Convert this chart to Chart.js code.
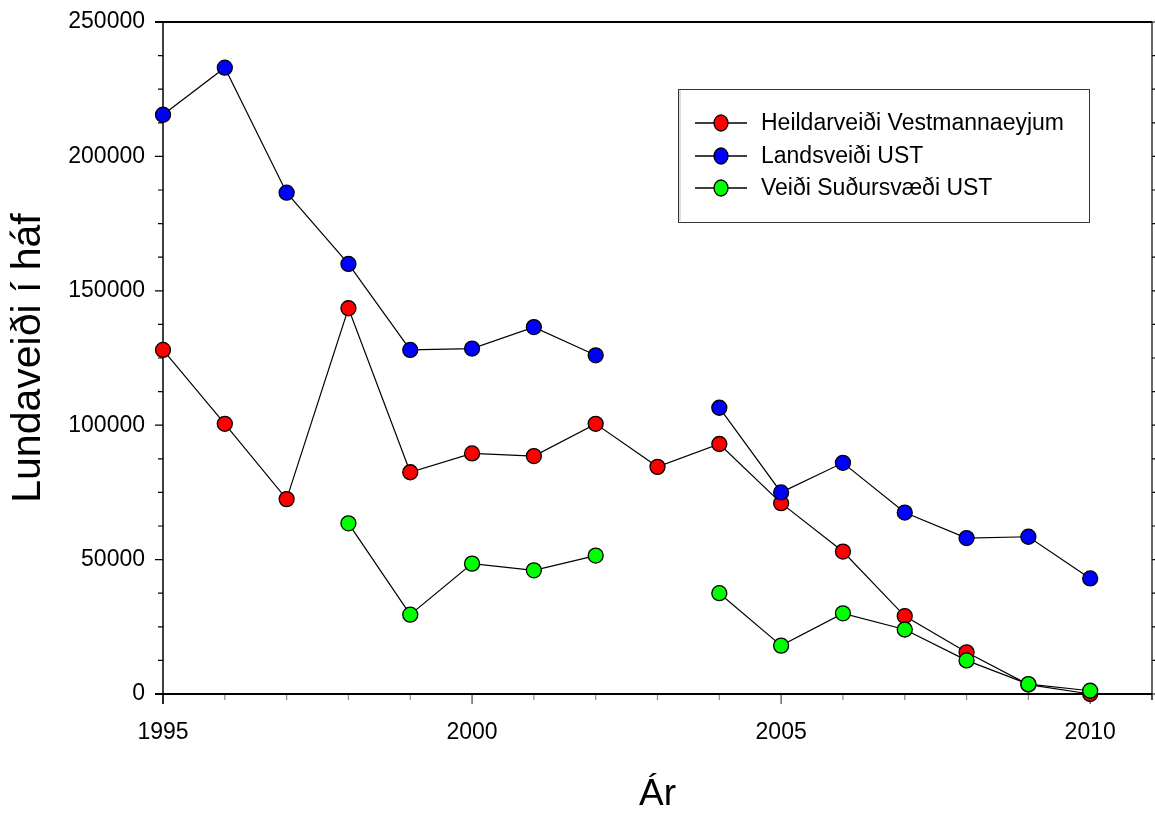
<!DOCTYPE html>
<html>
<head>
<meta charset="utf-8">
<script src="https://cdn.jsdelivr.net/npm/chart.js@4"></script>
<style>
  html, body { margin: 0; padding: 0; background: #fff; }
  canvas { display: block; }
</style>
</head>
<body>
<canvas id="lundaChart" width="1155" height="813"></canvas>
<script>
// ár
const years = [1995, 1996, 1997, 1998, 1999, 2000, 2001, 2002, 2003, 2004, 2005, 2006, 2007, 2008, 2009, 2010];

// Heildarveiði Vestmannaeyjum
const vestmannaeyjar = [128000, 100500, 72500, 143500, 82500, 89500, 88500, 100500, 84500, 93000, 71000, 53000, 29000, 15500, 3500, 0];
// Landsveiði UST
const landsveidi = [215500, 233000, 186500, 160000, 128000, 128500, 136500, 126000, null, 106500, 75000, 86000, 67500, 58000, 58500, 43000];
// Veiði Suðursvæði UST
const sudursvaedi = [null, null, null, 63500, 29500, 48500, 46000, 51500, null, 37500, 18000, 30000, 24000, 12500, 3700, 1200];

const seriesLabels = ['Heildarveiði Vestmannaeyjum', 'Landsveiði UST', 'Veiði Suðursvæði UST'];
const seriesColors = ['#ff0000', '#0000ff', '#00ff00'];

const yTicks = [0, 50000, 100000, 150000, 200000, 250000];
const xLabelYears = [1995, 2000, 2005, 2010];

const FONT = '"Liberation Sans", Arial, sans-serif';

function toPoints(values) {
  return years.map((yr, i) => ({ x: yr, y: values[i] }));
}

function makeSet(idx, values, order) {
  return {
    label: seriesLabels[idx],
    data: toPoints(values),
    order: order,
    borderColor: '#000',
    borderWidth: 1.2,
    backgroundColor: seriesColors[idx],
    pointBackgroundColor: seriesColors[idx],
    pointBorderColor: '#000',
    pointBorderWidth: 1.3,
    pointRadius: 7.5,
    pointHoverRadius: 7.5,
    spanGaps: false,
    clip: false,
    tension: 0
  };
}

// rammi og strik
const framePlugin = {
  id: 'frame',
  beforeDatasetsDraw(chart) {
    const { ctx, chartArea: a, scales: { x, y } } = chart;
    ctx.save();
    ctx.strokeStyle = '#000';

    // y strik
    for (let v = 0; v <= 250000; v += 12500) {
      const py = y.getPixelForValue(v);
      const major = v % 50000 === 0;
      ctx.lineWidth = 1.2;
      ctx.beginPath();
      ctx.moveTo(a.left - (major ? 8 : 5), py);
      ctx.lineTo(a.left, py);
      ctx.moveTo(a.right, py);
      ctx.lineTo(a.right + 6, py);
      ctx.stroke();
    }

    // x strik
    for (let yr = 1995; yr <= 2011; yr++) {
      const px = x.getPixelForValue(yr);
      const major = yr % 5 === 0;
      ctx.strokeStyle = major ? '#444' : '#888';
      ctx.lineWidth = 1.2;
      ctx.beginPath();
      ctx.moveTo(px, a.bottom);
      ctx.lineTo(px, a.bottom + (major ? 10 : 6));
      ctx.stroke();
    }

    ctx.strokeStyle = '#000';
    ctx.lineWidth = 2;
    ctx.beginPath();
    ctx.moveTo(a.left - 8, a.top);
    ctx.lineTo(a.right, a.top);
    ctx.moveTo(a.left - 8, a.bottom);
    ctx.lineTo(a.right, a.bottom);
    ctx.stroke();

    ctx.lineWidth = 1.5;
    ctx.beginPath();
    ctx.moveTo(a.left, a.top);
    ctx.lineTo(a.left, a.bottom + 10);
    ctx.stroke();

    ctx.lineWidth = 1.2;
    ctx.beginPath();
    ctx.moveTo(a.right, a.top);
    ctx.lineTo(a.right, a.bottom + 6);
    ctx.stroke();
    ctx.restore();
  }
};

// skýringar
const legendBoxPlugin = {
  id: 'legendBox',
  afterDraw(chart) {
    const ctx = chart.ctx;
    const box = { left: 678, top: 89, right: 1089, bottom: 222 };
    ctx.save();
    ctx.fillStyle = '#fff';
    ctx.fillRect(box.left, box.top, box.right - box.left, box.bottom - box.top);
    ctx.fillStyle = '#ddd';
    ctx.fillRect(box.left + 1, box.top + 1, 2, box.bottom - box.top - 2);
    ctx.strokeStyle = '#333';
    ctx.lineWidth = 1;
    ctx.strokeRect(box.left + 0.5, box.top + 0.5, box.right - box.left, box.bottom - box.top);

    ctx.font = '23px ' + FONT;
    ctx.textBaseline = 'middle';
    ctx.textAlign = 'left';
    const rows = [123, 156, 188];
    chart.data.datasets.forEach((ds, i) => {
      const cy = rows[i];
      ctx.strokeStyle = '#000';
      ctx.lineWidth = 1.3;
      ctx.beginPath();
      ctx.moveTo(695, cy);
      ctx.lineTo(747, cy);
      ctx.stroke();
      ctx.beginPath();
      ctx.ellipse(721, cy, 7, 8, 0, 0, Math.PI * 2);
      ctx.fillStyle = ds.pointBackgroundColor;
      ctx.fill();
      ctx.stroke();
      ctx.fillStyle = '#000';
      ctx.fillText(ds.label, 761, cy + 1);
    });
    ctx.restore();
  }
};

new Chart(document.getElementById('lundaChart'), {
  type: 'line',
  data: {
    datasets: [
      makeSet(0, vestmannaeyjar, 2),
      makeSet(1, landsveidi, 1),
      makeSet(2, sudursvaedi, 0)
    ]
  },
  options: {
    responsive: false,
    animation: false,
    events: [],
    layout: { autoPadding: false, padding: { top: 22, right: 3, left: 0, bottom: 0 } },
    plugins: {
      legend: { display: false },
      tooltip: { enabled: false }
    },
    scales: {
      x: {
        type: 'linear',
        min: 1995,
        max: 2011,
        afterFit: s => {
          s.height = 119;
          s.paddingLeft = 0;
          s.paddingRight = 0;
        },
        afterBuildTicks: s => { s.ticks = xLabelYears.map(v => ({ value: v })); },
        grid: { display: false, drawTicks: false, tickLength: 0 },
        border: { display: false },
        ticks: {
          autoSkip: false,
          maxRotation: 0,
          padding: 25,
          color: '#000',
          font: { family: FONT, size: 23 },
          callback: v => String(v)
        },
        title: {
          display: true,
          text: 'Ár',
          color: '#000',
          font: { family: FONT, size: 37, lineHeight: 1 },
          padding: { top: 0, bottom: 0 }
        }
      },
      y: {
        min: 0,
        max: 250000,
        afterFit: s => {
          s.width = 163;
          s.paddingTop = 0;
          s.paddingBottom = 0;
        },
        afterBuildTicks: s => { s.ticks = yTicks.map(v => ({ value: v })); },
        grid: { display: false, drawTicks: false, tickLength: 0 },
        border: { display: false },
        ticks: {
          padding: 18,
          color: '#000',
          font: { family: FONT, size: 23 },
          callback: v => String(v)
        },
        title: {
          display: true,
          text: 'Lundaveiði í háf',
          color: '#000',
          font: { family: FONT, size: 41, lineHeight: 1 },
          padding: { top: 8, bottom: 0 }
        }
      }
    }
  },
  plugins: [framePlugin, legendBoxPlugin]
});
</script>
</body>
</html>
